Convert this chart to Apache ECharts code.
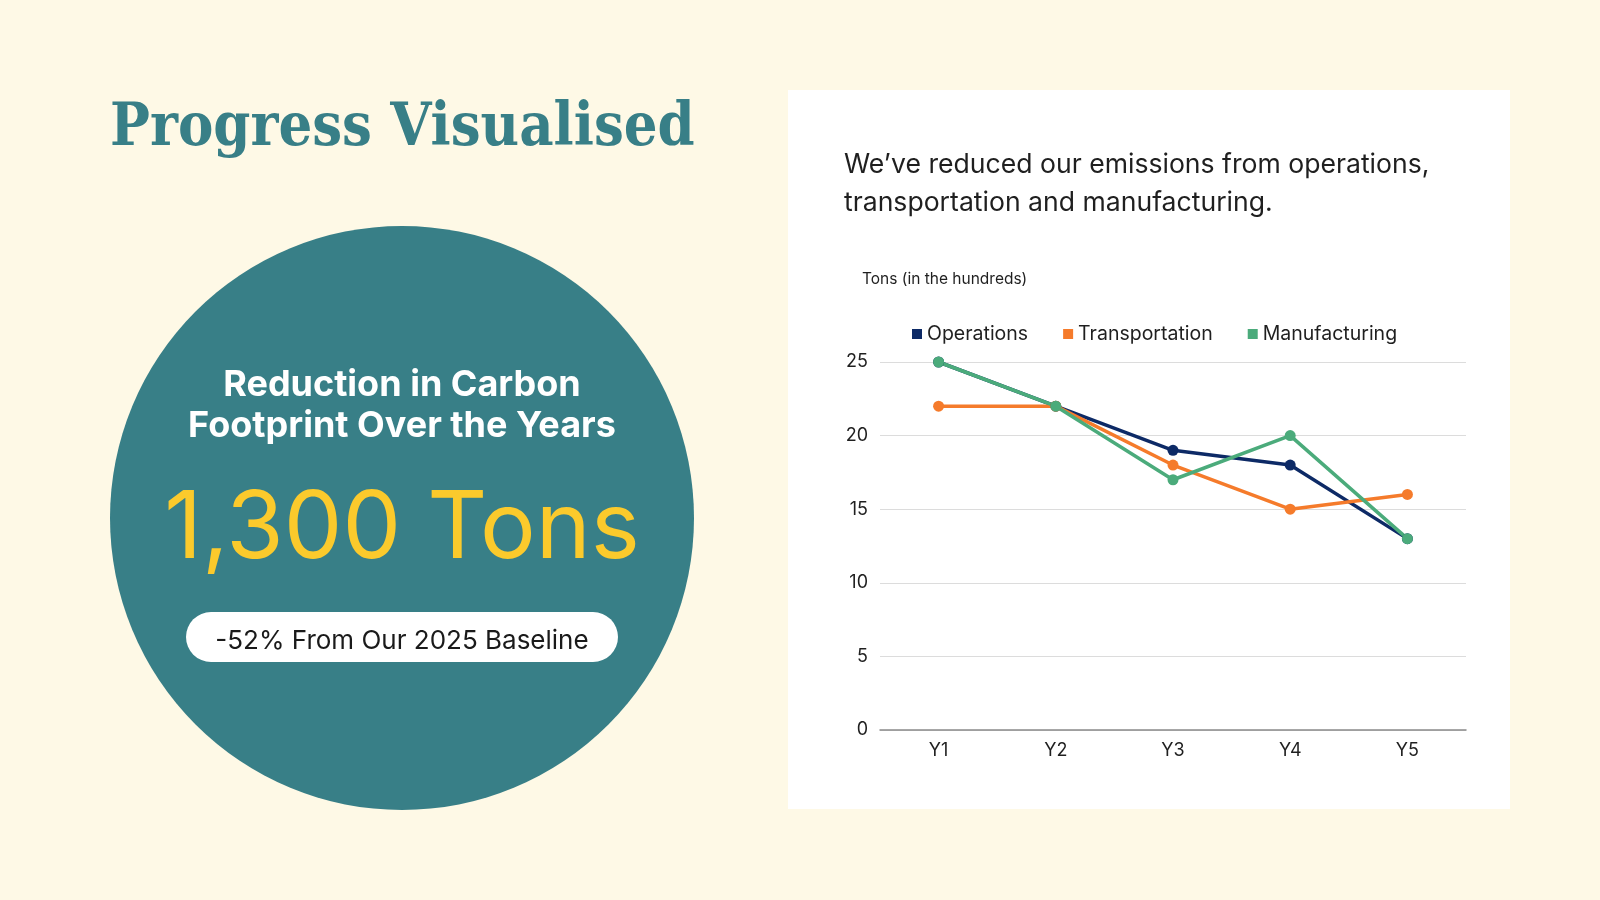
<!DOCTYPE html>
<html>
<head>
<meta charset="utf-8">
<script src="https://cdn.jsdelivr.net/npm/echarts@6/dist/echarts.min.js"></script>
<style>
html,body{margin:0;padding:0;background:#fef9e6;}
#c{width:1600px;height:900px;}
</style>
</head>
<body>
<div id="c"></div>
<script>
const categories = ['Y1', 'Y2', 'Y3', 'Y4', 'Y5'];
const operations = [25, 22, 19, 18, 13];
const transportation = [22, 22, 18, 15, 16];
const manufacturing = [25, 22, 17, 20, 13];
const seriesNames = ['Operations', 'Transportation', 'Manufacturing'];
const yTicks = { min: 0, max: 25, interval: 5 };

const chart = echarts.init(document.getElementById('c'));
const teal = '#387f87';
const colors = ['#0d2a66', '#f57b2b', '#4bab7b'];
const chartFont = 'Inter, Lato, sans-serif';

chart.setOption({
  backgroundColor: '#fef9e6',
  animation: false,
  graphic: [
    { type: 'text', left: 110, top: 100, style: { text: 'Progress Visualised', fill: teal, font: 'bold 59px "DejaVu Serif Condensed", "DejaVu Serif", serif' } },
    { type: 'circle', shape: { cx: 402, cy: 518, r: 292 }, style: { fill: teal } },
    { type: 'text', style: { x: 402, y: 385, text: 'Reduction in Carbon', fill: '#ffffff', font: 'bold 36px Inter, Lato, sans-serif', align: 'center', verticalAlign: 'middle' } },
    { type: 'text', style: { x: 402, y: 426, text: 'Footprint Over the Years', fill: '#ffffff', font: 'bold 36px Inter, Lato, sans-serif', align: 'center', verticalAlign: 'middle' } },
    { type: 'text', style: { x: 402, y: 530, text: '1,300 Tons', fill: '#fbca2c', font: '400 93px Inter, Lato, sans-serif', align: 'center', verticalAlign: 'middle' } },
    { type: 'rect', shape: { x: 186, y: 612, width: 432, height: 50, r: 25 }, style: { fill: '#ffffff' } },
    { type: 'text', style: { x: 402, y: 641, text: '-52% From Our 2025 Baseline', fill: '#1a1a1a', font: '26px Inter, Lato, sans-serif', align: 'center', verticalAlign: 'middle' } },
    { type: 'rect', z: -1, shape: { x: 788, y: 90, width: 722, height: 719 }, style: { fill: '#ffffff' } },
    { type: 'text', style: { x: 844, y: 165, text: 'We\u2019ve reduced our emissions from operations,', fill: '#1f1f1f', font: '26.6px Inter, Lato, sans-serif', verticalAlign: 'middle' } },
    { type: 'text', style: { x: 844, y: 203, text: 'transportation and manufacturing.', fill: '#1f1f1f', font: '26.6px Inter, Lato, sans-serif', verticalAlign: 'middle' } },
    { type: 'text', style: { x: 862, y: 279, text: 'Tons (in the hundreds)', fill: '#1f1f1f', font: '15.5px Inter, Lato, sans-serif', verticalAlign: 'middle' } }
  ],
  legend: {
    data: seriesNames,
    left: 907, top: 319,
    icon: 'rect', itemWidth: 10, itemHeight: 10, itemGap: 35,
    textStyle: { fontSize: 19.5, color: '#1f1f1f', fontFamily: chartFont }
  },
  grid: { left: 880, top: 362, width: 586, height: 368, containLabel: false },
  xAxis: {
    type: 'category', data: categories, boundaryGap: true,
    axisLine: { lineStyle: { color: '#8a8a8a', width: 1.5 } },
    axisTick: { show: false },
    axisLabel: { color: '#1f1f1f', fontSize: 18, margin: 12, fontFamily: chartFont }
  },
  yAxis: {
    type: 'value', min: yTicks.min, max: yTicks.max, interval: yTicks.interval,
    axisLine: { show: false }, axisTick: { show: false },
    splitLine: { lineStyle: { color: '#dcdcdc', width: 1.2 } },
    axisLabel: { color: '#1f1f1f', fontSize: 18, margin: 12, fontFamily: chartFont }
  },
  series: [
    { name: seriesNames[0], type: 'line', data: operations, color: colors[0], symbol: 'circle', symbolSize: 11, lineStyle: { width: 3.5 } },
    { name: seriesNames[1], type: 'line', data: transportation, color: colors[1], symbol: 'circle', symbolSize: 11, lineStyle: { width: 3.5 } },
    { name: seriesNames[2], type: 'line', data: manufacturing, color: colors[2], symbol: 'circle', symbolSize: 11, lineStyle: { width: 3.5 } }
  ]
});
</script>
</body>
</html>
